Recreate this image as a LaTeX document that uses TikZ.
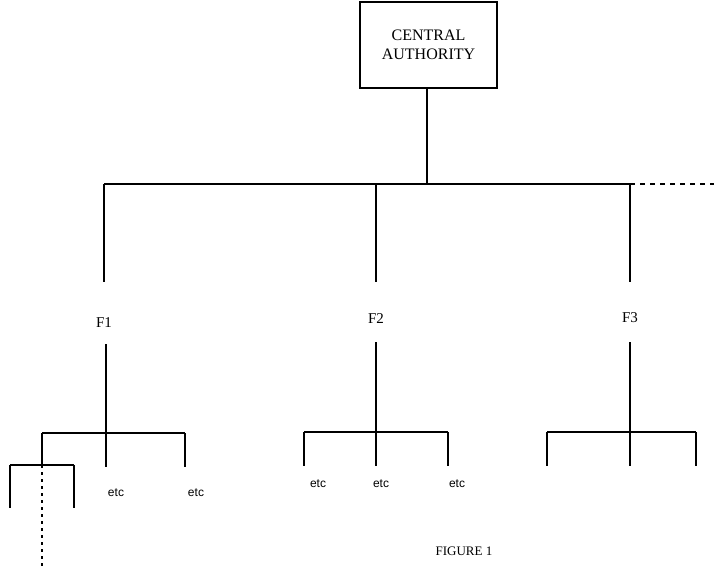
\documentclass[tikz,border=0pt]{standalone}
\usepackage{fontspec}
\setmainfont{Liberation Serif}
\newfontfamily\etcfont{Liberation Sans}
\begin{document}
\begin{tikzpicture}[x=1pt,y=-1pt,
  ln/.style={line width=2pt},
  dl/.style={line width=1.6pt,dash pattern=on 5pt off 5pt},
  lbl/.style={font=\fontsize{15}{17}\selectfont},
  etcl/.style={font=\etcfont\fontsize{12}{14}\selectfont}]
\useasboundingbox (0,0) rectangle (714,568);
% central authority
\node[draw,line width=2pt,minimum width=137pt,minimum height=86pt,align=center,
  font=\fontsize{16}{19}\selectfont] (ca) at (428.5,45) {CENTRAL\\AUTHORITY};
% top bar
\coordinate (top) at (427,184);
\coordinate (b1) at (104,184);
\coordinate (b2) at (376,184);
\coordinate (b3) at (630,184);
\coordinate (bend) at (714,184);
\draw[ln] (ca.south -| top) -- (top);
\draw[ln] (b1) -- (b3);
\draw[dl] (b3) -- (bend);
% F labels
\node[lbl] (f1) at (104,323) {F1};
\node[lbl] (f2) at (376,319) {F2};
\node[lbl] (f3) at (630,318) {F3};
\draw[ln] (b1) -- ++(0,98) coordinate (f1t);
\draw[ln] (b2) -- ++(0,98) coordinate (f2t);
\draw[ln] (b3) -- ++(0,98) coordinate (f3t);
% F1 subtree
\coordinate (f1s) at (106,344);
\coordinate (f1m) at (106,433);
\coordinate (f1l) at (42,433);
\coordinate (f1r) at (185,433);
\draw[ln] (f1s) -- (f1m);
\draw[ln] (f1l) -- (f1r);
\draw[ln] (f1m) -- ++(0,34);
\draw[ln] (f1r) -- ++(0,34);
\draw[ln] (f1l) -- ++(0,32) coordinate (ss);
\node[etcl] (e11) at (116,493) {etc};
\node[etcl] (e12) at (196,493) {etc};
% sub-subtree
\coordinate (ssl) at (10,465);
\coordinate (ssr) at (74,465);
\draw[ln] (ssl) -- (ssr);
\draw[ln] (ssl) -- ++(0,43);
\draw[ln] (ssr) -- ++(0,43);
\coordinate (ssend) at (42,568);
\draw[dl,dash pattern=on 3pt off 4pt] (ss) -- (ssend);
% F2 subtree
\coordinate (f2s) at (376,342);
\coordinate (f2m) at (376,432);
\coordinate (f2l) at (304,432);
\coordinate (f2r) at (448,432);
\draw[ln] (f2s) -- (f2m);
\draw[ln] (f2l) -- (f2r);
\draw[ln] (f2l) -- ++(0,34);
\draw[ln] (f2m) -- ++(0,34);
\draw[ln] (f2r) -- ++(0,34);
\node[etcl] (e21) at (318,484) {etc};
\node[etcl] (e22) at (381,484) {etc};
\node[etcl] (e23) at (457,484) {etc};
% F3 subtree
\coordinate (f3s) at (630,342);
\coordinate (f3m) at (630,432);
\coordinate (f3l) at (547,432);
\coordinate (f3r) at (696,432);
\draw[ln] (f3s) -- (f3m);
\draw[ln] (f3l) -- (f3r);
\draw[ln] (f3l) -- ++(0,34);
\draw[ln] (f3m) -- ++(0,34);
\draw[ln] (f3r) -- ++(0,34);
% caption
\node[font=\fontsize{13}{15}\selectfont] (cap) at (464,551) {FIGURE 1};
\end{tikzpicture}
\end{document}
